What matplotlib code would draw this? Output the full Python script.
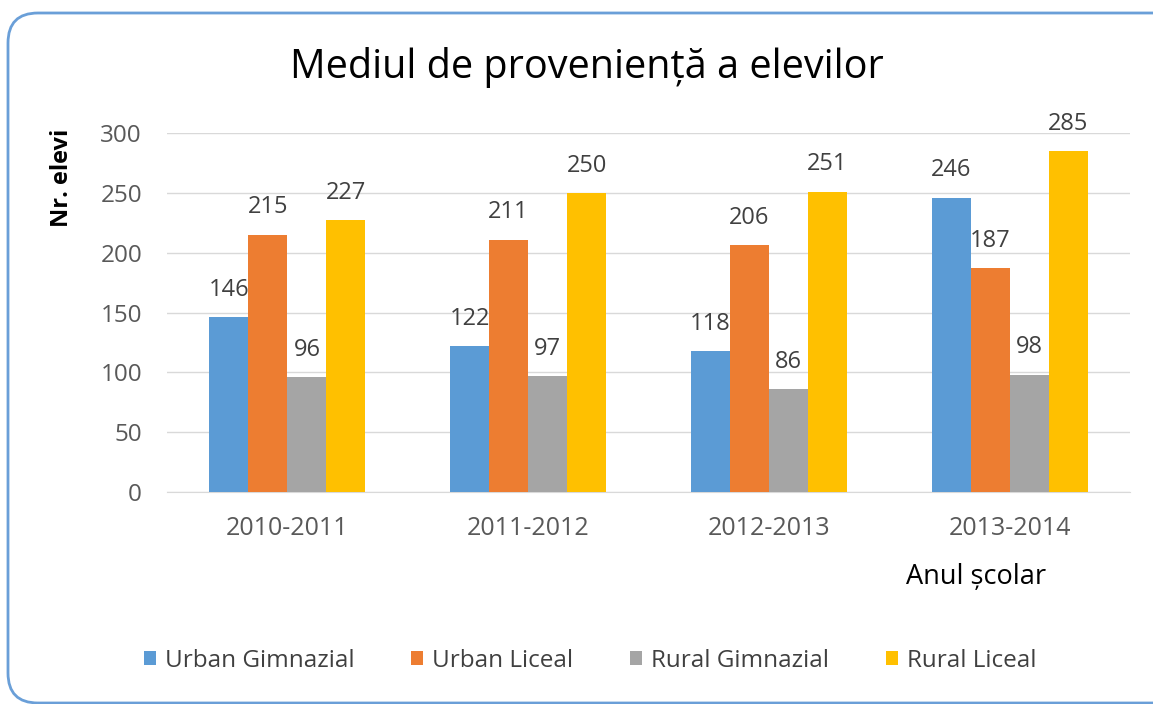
import matplotlib
matplotlib.use("Agg")
import matplotlib.pyplot as plt
from matplotlib.patches import FancyBboxPatch
import numpy as np

years = ["2010-2011", "2011-2012", "2012-2013", "2013-2014"]
urban_gimnazial = [146, 122, 118, 246]
urban_liceal = [215, 211, 206, 187]
rural_gimnazial = [96, 97, 86, 98]
rural_liceal = [227, 250, 251, 285]

series = [
    ("Urban Gimnazial", urban_gimnazial, "#5B9BD5"),
    ("Urban Liceal", urban_liceal, "#ED7D31"),
    ("Rural Gimnazial", rural_gimnazial, "#A5A5A5"),
    ("Rural Liceal", rural_liceal, "#FFC000"),
]

plt.rcParams["font.family"] = ["Open Sans", "DejaVu Sans"]

W, H = 1153, 704
fig = plt.figure(figsize=(W/100, H/100), dpi=100)
ax = fig.add_axes([167/W, 1 - 492/H, (1130 - 167)/W, (492 - 133)/H])

x = np.arange(len(years))
bw = 0.162
for i, (name, vals, col) in enumerate(series):
    pos = x + (i - 1.5)*bw
    bars = ax.bar(pos, vals, bw, color=col, label=name, zorder=3)
    for b, v in zip(bars, vals):
        ax.annotate(str(v), (b.get_x() + b.get_width()/2, v),
                    xytext=(0, 11), textcoords="offset points",
                    ha="center", va="bottom", fontsize=17, color="#404040")

ax.set_xlim(-0.5, 3.5)
ax.set_ylim(0, 300)
ax.set_yticks(range(0, 301, 50))
ax.set_xticks(x)
ax.set_xticklabels(years)
ax.grid(axis="y", color="#D9D9D9", linewidth=1, zorder=0)
for s in ["top", "right", "left"]:
    ax.spines[s].set_visible(False)
ax.spines["bottom"].set_color("#D9D9D9")
ax.tick_params(axis="both", length=0, labelsize=17.5, labelcolor="#595959")
ax.tick_params(axis="x", labelsize=18, pad=17)
ax.tick_params(axis="y", pad=18)

fig.text(587/W, 1 - 68/H, "Mediul de proveniență a elevilor",
         ha="center", va="center", fontsize=28.5, color="#000000")
fig.text(62/W, 1 - 178/H, "Nr. elevi", rotation=90, ha="center",
         va="center", fontsize=17, fontweight="bold", color="#000000")
fig.text(976/W, 1 - 577/H, "Anul școlar", ha="center", va="center",
         fontsize=19.5, color="#000000")

leg = fig.legend(loc="center", bbox_to_anchor=(590/W, 1 - 661/H), ncol=4,
                 frameon=False, fontsize=17.5, handlelength=0.5,
                 handleheight=0.5, handletextpad=0.35, columnspacing=2.35)
for t in leg.get_texts():
    t.set_color("#404040")

# rounded chart frame, in pixels (right side runs past the image edge)
border = FancyBboxPatch((8, 1), 1250, 690,
                        boxstyle="round,pad=0,rounding_size=30",
                        transform=None, fill=False,
                        edgecolor="#6A9FD8", linewidth=2)
fig.patches.append(border)

fig.savefig("out.png", dpi=100)
